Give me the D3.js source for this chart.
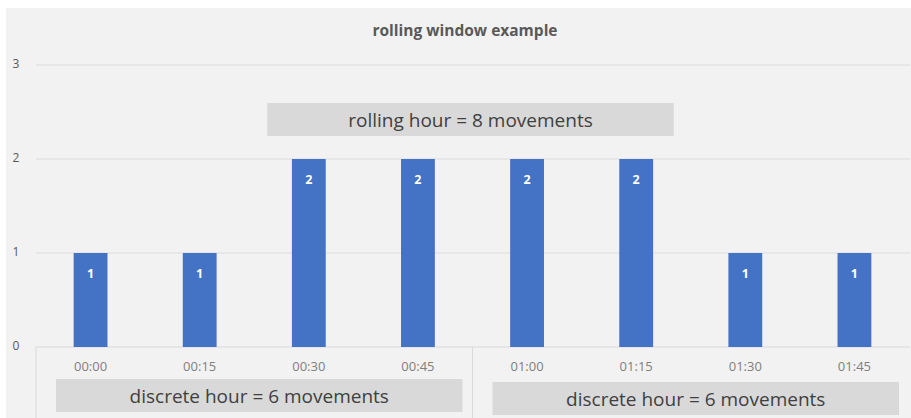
<!DOCTYPE html>
<html><head><meta charset="utf-8">
<script src="https://cdn.jsdelivr.net/npm/d3@7"></script>
<style>
html,body{margin:0;padding:0;background:#fff;}
svg{display:block;}
text{font-family:"Liberation Sans Narrow","Open Sans",Arial,sans-serif;}
</style></head>
<body>
<script>
const title = "rolling window example";
const categories = ["00:00","00:15","00:30","00:45","01:00","01:15","01:30","01:45"];
const movements = [1,1,2,2,2,2,1,1];
const yTicks = [0,1,2,3];
const hourGroups = [
  {label:"discrete hour = 6 movements", from:"00:00", to:"00:45"},
  {label:"discrete hour = 6 movements", from:"01:00", to:"01:45"}
];
const rollingLabel = "rolling hour = 8 movements";
const rollingFrom = "00:30", rollingTo = "01:15";

const W = 911, H = 418;
const svg = d3.select("body").append("svg").attr("width", W).attr("height", H);

// panel
svg.append("rect").attr("x",6).attr("y",8).attr("width",W-6).attr("height",H-8).attr("fill","#f2f2f2");

const x = d3.scaleBand().domain(categories).range([36, 909]).paddingInner(0.69).paddingOuter(0.345);
const xb = d3.scaleBand().domain(categories).range([36, 909]).padding(0);
const y = d3.scaleLinear().domain([0,3]).range([347,65]);

// title
svg.append("text").attr("x",465).attr("y",36).attr("text-anchor","middle")
  .attr("font-size",15.5).attr("font-weight","bold").attr("fill","#595959").text(title);

// gridlines
svg.append("g").selectAll("line").data(yTicks.filter(d=>d>0)).join("line")
  .attr("x1",36).attr("x2",910).attr("y1",d=>y(d)).attr("y2",d=>y(d))
  .attr("stroke","#e3e3e3").attr("stroke-width",1.5);

// y axis labels
const yAxis = d3.axisLeft(y).tickValues(yTicks).tickSize(0).tickPadding(0).tickFormat(d3.format("d"));
const ya = svg.append("g").attr("transform","translate(16,0)").call(yAxis);
ya.select(".domain").remove();
ya.selectAll("text").attr("font-size",12).attr("fill","#595959").attr("text-anchor","middle").attr("dy","0.2em");

// category frame
const frame = svg.append("g").attr("stroke","#d9d9d9").attr("stroke-width",1);
frame.append("line").attr("x1",36).attr("x2",910).attr("y1",y(0)).attr("y2",y(0));
frame.append("line").attr("x1",36).attr("x2",36).attr("y1",y(0)).attr("y2",H);
frame.append("line").attr("x1",xb("01:00")).attr("x2",xb("01:00")).attr("y1",y(0)).attr("y2",H);

// x axis labels
const xAxis = d3.axisBottom(x).tickSize(0).tickPadding(0);
const xa = svg.append("g").attr("transform",`translate(0,${y(0)+15})`).call(xAxis);
xa.select(".domain").remove();
xa.selectAll("text").attr("font-size",13).attr("fill","#7f7f7f");

// bars
svg.append("g").selectAll("rect").data(movements).join("rect")
  .attr("x",(d,i)=>x(categories[i])).attr("width",x.bandwidth())
  .attr("y",d=>y(d)).attr("height",d=>y(0)-y(d)).attr("fill","#4472c4");

// bar labels
svg.append("g").selectAll("text").data(movements).join("text")
  .attr("x",(d,i)=>x(categories[i])+x.bandwidth()/2).attr("y",d=>y(d)+25)
  .attr("text-anchor","middle").attr("font-size",12.5).attr("font-weight","bold").attr("fill","#fff")
  .text(d=>d);

// rolling box
const rx0 = xb(rollingFrom)+13, rx1 = xb(rollingTo)+xb.bandwidth()-17;
svg.append("rect").attr("x",rx0).attr("y",103).attr("width",rx1-rx0).attr("height",33).attr("fill","#d9d9d9");
svg.append("text").attr("x",(rx0+rx1)/2).attr("y",126.5).attr("text-anchor","middle")
  .attr("font-size",19).attr("fill","#404040").text(rollingLabel);

// discrete boxes
hourGroups.forEach((g,i)=>{
  const gx0 = xb(g.from)+20, gx1 = xb(g.to)+xb.bandwidth()-10;
  const gy = i===0 ? 379 : 382;
  svg.append("rect").attr("x",gx0).attr("y",gy).attr("width",gx1-gx0).attr("height",33).attr("fill","#d9d9d9");
  svg.append("text").attr("x",(gx0+gx1)/2).attr("y",gy+23.5).attr("text-anchor","middle")
    .attr("font-size",19).attr("fill","#404040").text(g.label);
});
</script>
</body></html>
